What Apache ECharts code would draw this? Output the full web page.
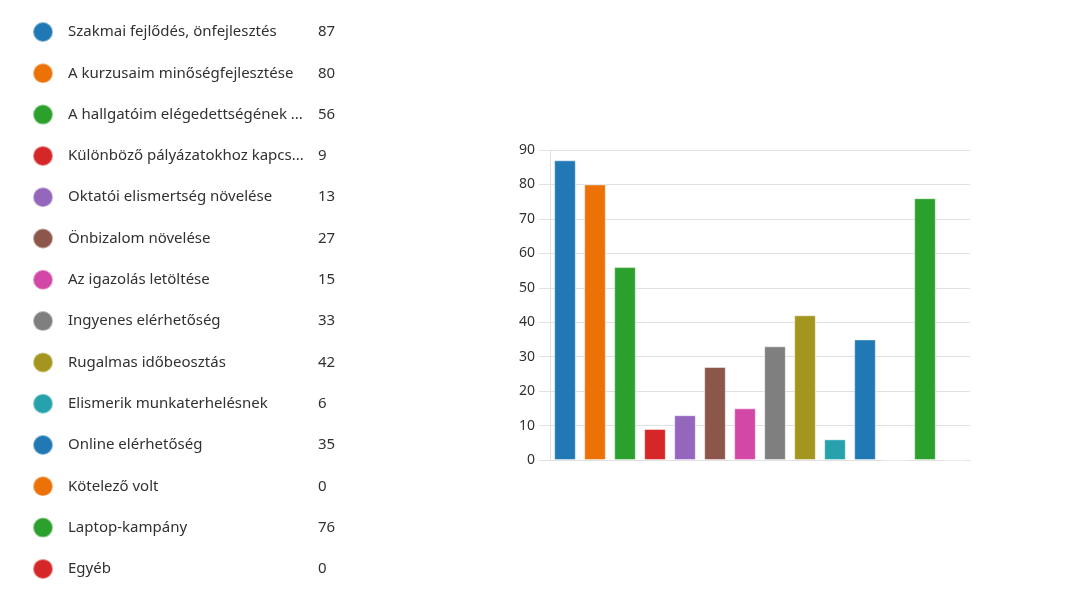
<!DOCTYPE html>
<html>
<head>
<meta charset="utf-8">
<script src="https://cdn.jsdelivr.net/npm/echarts@6/dist/echarts.min.js"></script>
<style>
  html, body { margin: 0; padding: 0; background: #fff; }
  #chart { width: 1074px; height: 610px; }
</style>
</head>
<body>
<div id="chart"></div>
<script>
var categories = ['Szakmai fejlődés, önfejlesztés', 'A kurzusaim minőségfejlesztése', 'A hallgatóim elégedettségének ...',
    'Különböző pályázatokhoz kapcs...', 'Oktatói elismertség növelése', 'Önbizalom növelése', 'Az igazolás letöltése',
    'Ingyenes elérhetőség', 'Rugalmas időbeosztás', 'Elismerik munkaterhelésnek', 'Online elérhetőség',
    'Kötelező volt', 'Laptop-kampány', 'Egyéb'];
var counts = [87, 80, 56, 9, 13, 27, 15, 33, 42, 6, 35, 0, 76, 0];
var colors = ['#2078b4', '#ec7207', '#2ca02c', '#d62728', '#9467bd', '#8c564b', '#d347a6',
    '#7f7f7f', '#a4951f', '#27a2ad', '#2078b4', '#ec7207', '#2ca02c', '#d62728'];
var yTicks = { min: 0, max: 90, step: 10 };

var myChart = echarts.init(document.getElementById('chart'));

var series = categories.map(function (name, i) {
    var data = categories.map(function (c, j) { return j === i ? counts[i] : '-'; });
    return {
        name: name,
        type: 'bar',
        stack: 'all',
        barWidth: '72%',
        itemStyle: {
            color: colors[i],
            borderColor: 'rgba(255,255,255,0.45)',
            borderWidth: 1
        },
        data: data
    };
});

var option = {
    animation: false,
    color: colors,
    textStyle: { fontFamily: 'Noto Sans' },
    legend: {
        orient: 'vertical',
        left: 27,
        top: 16,
        height: 600,
        icon: 'circle',
        itemWidth: 40,
        itemHeight: 20,
        itemGap: 19.3,
        selectedMode: false,
        data: categories,
        formatter: function (name) {
            var i = categories.indexOf(name);
            return '{n|' + name + '}{v|' + counts[i] + '}';
        },
        textStyle: {
            lineHeight: 20,
            rich: {
                n: { width: 250, fontSize: 15, color: '#323130', lineHeight: 20, fontFamily: 'Noto Sans' },
                v: { fontSize: 15, color: '#323130', lineHeight: 20, fontFamily: 'Noto Sans' }
            }
        }
    },
    grid: {
        left: 550,
        right: 104,
        top: 150,
        bottom: 150,
        containLabel: false
    },
    xAxis: {
        type: 'category',
        data: categories,
        axisLine: { lineStyle: { color: '#e1e1e1', width: 1 } },
        axisTick: { show: false },
        axisLabel: { show: false }
    },
    yAxis: {
        type: 'value',
        min: yTicks.min,
        max: yTicks.max,
        interval: yTicks.step,
        axisLine: { show: true, lineStyle: { color: '#e1e1e1', width: 1 } },
        axisTick: { show: true, length: 11, lineStyle: { color: '#e1e1e1' } },
        splitLine: { lineStyle: { color: '#e1e1e1', width: 1 } },
        axisLabel: { margin: 15, color: '#323130', fontSize: 14, fontFamily: 'Noto Sans' }
    },
    series: series
};
myChart.setOption(option);
</script>
</body>
</html>
